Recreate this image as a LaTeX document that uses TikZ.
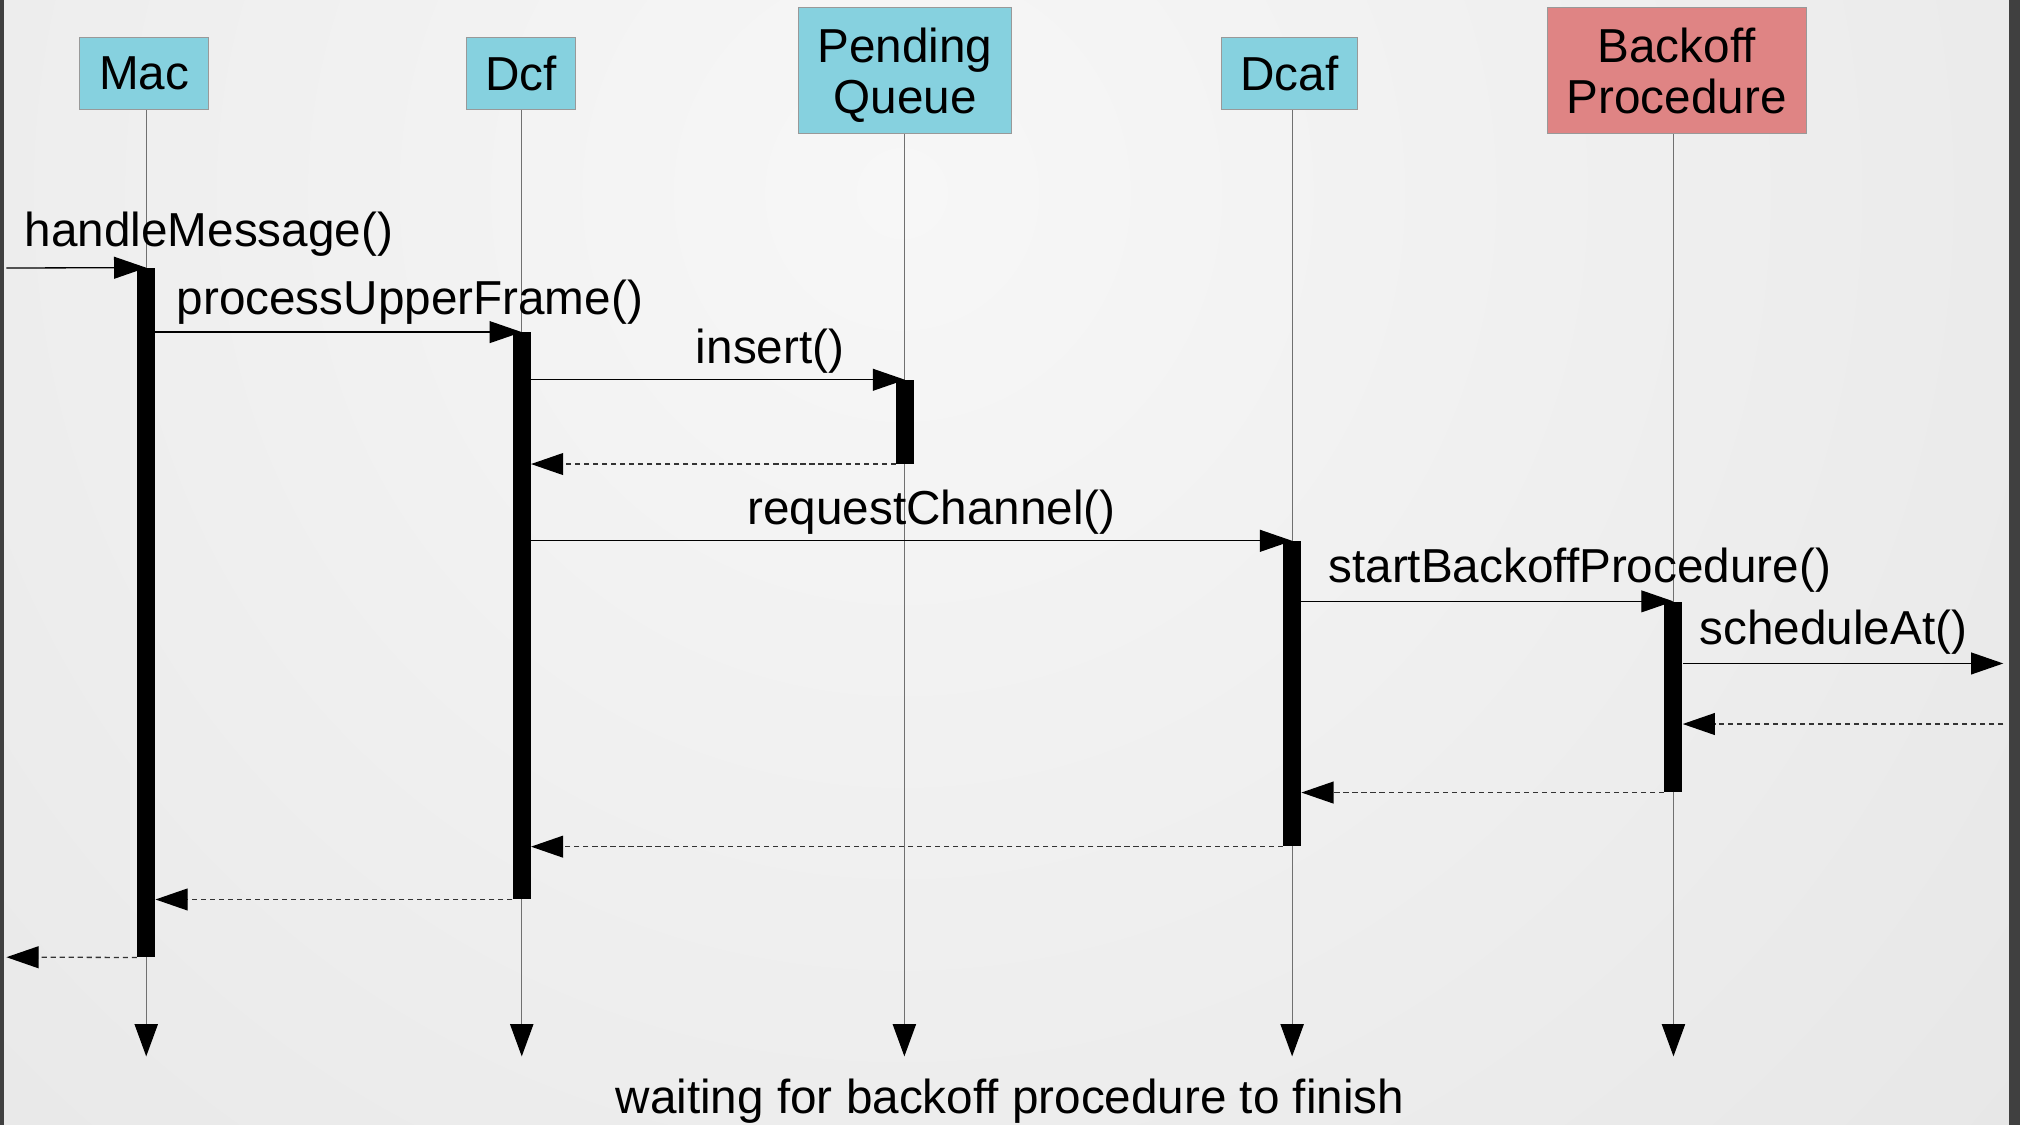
\documentclass[tikz,border=0pt]{standalone}
\usepackage{fontspec}
\setmainfont{Liberation Sans}
\usetikzlibrary{arrows.meta}
\definecolor{boxcyan}{HTML}{86D1DF}
\definecolor{boxred}{HTML}{DF8484}
\definecolor{boxedge}{HTML}{999999}
\definecolor{stripe}{HTML}{404040}
\definecolor{bginner}{HTML}{F7F7F7}
\definecolor{bgouter}{HTML}{D8D8D8}
\definecolor{lifegray}{HTML}{707070}
\definecolor{retgray}{HTML}{333333}

\begin{document}
\begin{tikzpicture}[x=1pt,y=-1pt,
  every node/.style={font=\fontsize{37}{40}\selectfont},
  lbox/.style={draw=boxedge,line width=0.8pt,fill=boxcyan,inner sep=0pt,minimum height=56,align=center,text depth=0pt},
  rbox/.style={lbox,fill=boxred},
  life/.style={draw=lifegray,line width=1pt,-{Triangle[length=25pt,width=18pt,color=black]}},
  actbar/.style={fill=black,inner sep=0pt,minimum width=14},
  msg/.style={draw=black,line width=1pt,-{Triangle[length=25pt,width=17pt]}},
  ret/.style={draw=retgray,line width=1pt,dash pattern=on 4pt off 3pt,-{Triangle[length=25pt,width=17pt,color=black]}},
  lbl/.style={anchor=base west,inner sep=0pt}]

% canvas and background
\useasboundingbox (0,0) rectangle (1568,873);
\begin{scope}
  \clip (0,0) rectangle (1568,873);
  \shade[inner color=bginner,outer color=bgouter] (-1500,-2050) rectangle (2900,2350);
\end{scope}
\fill[stripe] (0,0) rectangle (3,873);
\fill[stripe] (1559.5,0) rectangle (1568,873);

% participants
\node[lbox,minimum width=100] (mac) at (112,57) {Mac};
\node[lbox,minimum width=85] (dcf) at (404.5,57) {Dcf};
\node[lbox,minimum width=165,minimum height=98] (pq) at (702.5,55) {Pending\\Queue};
\node[lbox,minimum width=106] (dcaf) at (1001,57) {Dcaf};
\node[rbox,minimum width=201,minimum height=98] (bo) at (1301.5,55) {Backoff\\Procedure};

% lifeline ends
\coordinate (macend) at (113.5,820);
\coordinate (dcfend) at (405,820);
\coordinate (pqend) at (702,820);
\coordinate (dcafend) at (1003,820);
\coordinate (boend) at (1299,820);

\draw[life] (macend |- mac.south) -- (macend);
\draw[life] (dcfend |- dcf.south) -- (dcfend);
\draw[life] (pqend |- pq.south) -- (pqend);
\draw[life] (dcafend |- dcaf.south) -- (dcafend);
\draw[life] (boend |- bo.south) -- (boend);

% activation bars
\node[actbar,minimum height=535] (macbar) at (113.5,475.5) {};
\node[actbar,minimum height=440] (dcfbar) at (405,478) {};
\node[actbar,minimum height=65] (pqbar) at (702.5,327.5) {};
\node[actbar,minimum height=237] (dcafbar) at (1003,538.5) {};
\node[actbar,minimum height=148] (bobar) at (1299,541) {};

% outside endpoints
\coordinate (caller) at (5,208);
\coordinate (callerret) at (5,743);
\coordinate (timer) at (1555,515);
\coordinate (timerret) at (1555,562);

% calls
\draw[msg] (caller) -- (macbar.north);
\draw[msg] (macbar.east |- dcfbar.north) -- (dcfbar.north);
\draw[msg] (dcfbar.east |- pqbar.north) -- (pqbar.north);
\draw[msg] (dcfbar.east |- dcafbar.north) -- (dcafbar.north);
\draw[msg] (dcafbar.east |- bobar.north) -- (bobar.north);
\draw[msg] (bobar.east |- timer) -- (timer);

% returns
\draw[ret] (pqbar.south west) -- (dcfbar.east |- pqbar.south);
\draw[ret] (timerret) -- (bobar.east |- timerret);
\draw[ret] (bobar.south west) -- (dcafbar.east |- bobar.south);
\draw[ret] (dcafbar.south west) -- (dcfbar.east |- dcafbar.south);
\draw[ret] (dcfbar.south west) -- (macbar.east |- dcfbar.south);
\draw[ret] (macbar.south west) -- (callerret);

% labels
\node[lbl] (l1) at (19,191) {handleMessage()};
\node[lbl] (l2) at (137,244) {processUpperFrame()};
\node[lbl] (l3) at (540,282) {insert()};
\node[lbl] (l4) at (580,407) {requestChannel()};
\node[lbl] (l5) at (1031,452) {startBackoffProcedure()};
\node[lbl] (l6) at (1319,500) {scheduleAt()};
\node[anchor=base,inner sep=0pt] (note) at (784,864) {waiting for backoff procedure to finish};
\end{tikzpicture}
\end{document}
